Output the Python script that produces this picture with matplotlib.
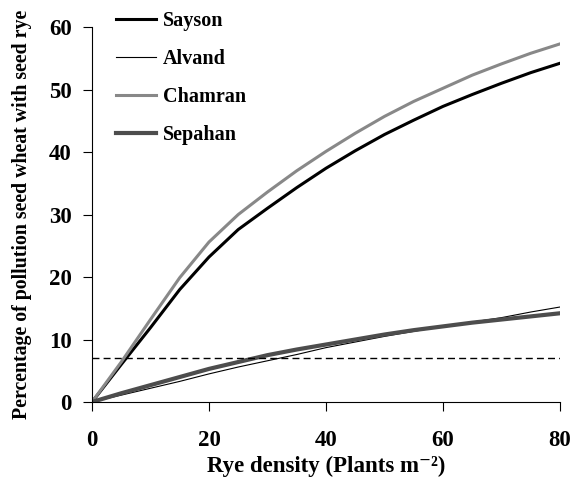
import matplotlib.pyplot as plt

plt.rcParams['font.family'] = ['Liberation Serif', 'DejaVu Serif']
plt.rcParams['font.weight'] = 'bold'

# Дані кривих
density = [0, 5, 10, 15, 20, 25, 30, 35, 40, 45, 50, 55, 60, 65, 70, 75, 80]
sayson = [0, 6.0, 11.9, 18.0, 23.2, 27.6, 31.0, 34.3, 37.4, 40.2, 42.8, 45.1, 47.3, 49.2, 51.0, 52.7, 54.2]
alvand = [0, 1.1, 2.2, 3.3, 4.5, 5.6, 6.6, 7.6, 8.7, 9.6, 10.5, 11.3, 12.1, 12.8, 13.5, 14.4, 15.2]
chamran = [0, 6.4, 13.2, 19.9, 25.6, 30.0, 33.6, 37.0, 40.1, 43.0, 45.7, 48.1, 50.2, 52.3, 54.1, 55.8, 57.3]
sepahan = [0, 1.4, 2.7, 4.0, 5.3, 6.4, 7.5, 8.4, 9.2, 10.0, 10.8, 11.5, 12.1, 12.7, 13.2, 13.7, 14.2]
threshold = 7.1

fig = plt.figure(
    figsize=(5.71, 4.86),
    dpi=100
)
ax = fig.add_axes([0.1611, 0.1728, 0.8196, 0.7716])

ax.plot(density, sayson, color='black', lw=2.2, label='Sayson')
ax.plot(density, alvand, color='black', lw=0.8, label='Alvand')
ax.plot(density, chamran, color='#888888', lw=2.2, label='Chamran')
ax.plot(density, sepahan, color='#4d4d4d', lw=3, label='Sepahan')

ax.plot(
    [density[0], density[-1]],
    [threshold, threshold],
    color='black',
    lw=1,
    dashes=(5, 3)
)

ax.set_xlim(0, 80)
ax.set_ylim(0, 60)
ax.set_xticks([0, 20, 40, 60, 80])
ax.set_yticks([0, 10, 20, 30, 40, 50, 60])

ax.spines['top'].set_visible(False)
ax.spines['right'].set_visible(False)

ax.tick_params(axis='x', direction='out', length=6.5, pad=14, labelsize=16.5)
ax.tick_params(axis='y', direction='out', length=6.5, pad=8, labelsize=16.5)

ax.set_xlabel('Rye density (Plants m⁻²)', fontsize=16.5, fontweight='bold', labelpad=3)
ax.set_ylabel('Percentage of pollution seed wheat with seed rye',
              fontsize=14.3, fontweight='bold', labelpad=12)

ax.legend(
    loc='upper left',
    bbox_to_anchor=(0.051, 1.042),
    frameon=False,
    borderpad=0,
    borderaxespad=0,
    handlelength=2.0,
    handletextpad=0.35,
    labelspacing=0.89,
    prop={'size': 14.5, 'weight': 'bold'}
)

fig.savefig('out.png')
